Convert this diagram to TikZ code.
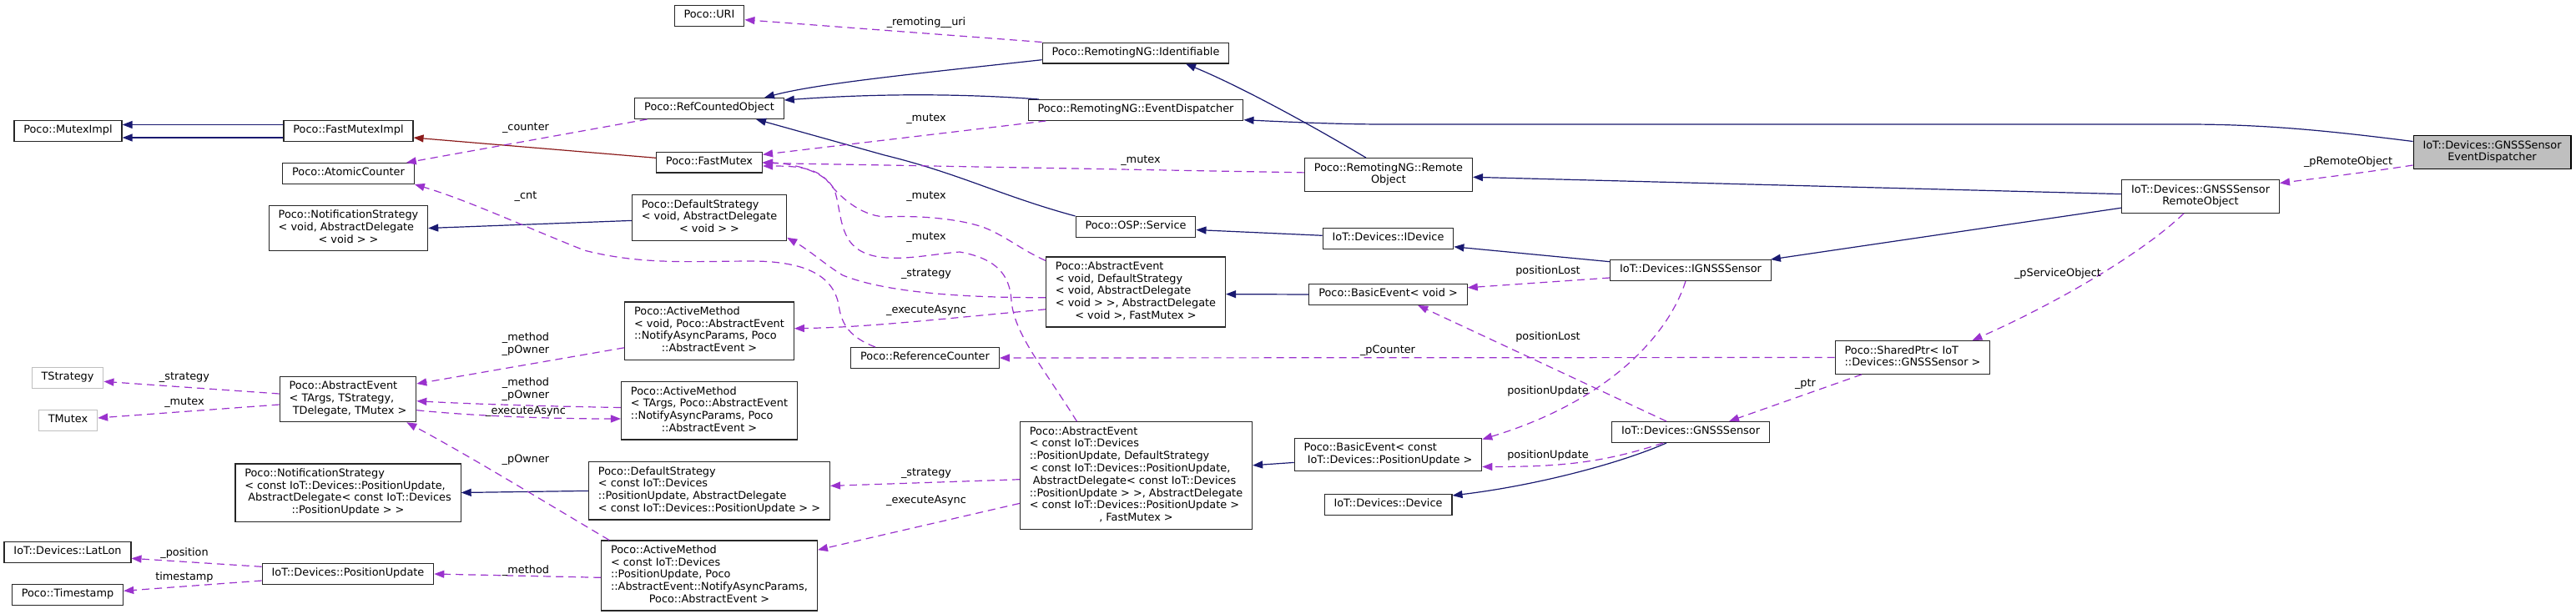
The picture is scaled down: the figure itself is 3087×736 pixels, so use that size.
\documentclass[tikz,border=0pt]{standalone}
\usepackage{fontspec}
\setmainfont{DejaVu Sans}
\usepackage{array}
\usetikzlibrary{arrows.meta}
\definecolor{navyc}{HTML}{191970}
\definecolor{orchidc}{HTML}{9A32CD}
\definecolor{brickc}{HTML}{8B1A1A}
\definecolor{nodeborder}{HTML}{262626}
\definecolor{lightborder}{HTML}{BFBFBF}
\definecolor{rootfill}{HTML}{BFBFBF}
\newcommand\dfont{\fontsize{12.85}{14.8}\selectfont}
\newcommand\ml[1]{\begin{tabular}{@{}l@{}}#1\end{tabular}}
\newcommand\lc[1]{\multicolumn{1}{@{}c@{}}{#1}}
\begin{document}
\begin{tikzpicture}[x=1pt,y=-1pt,
  cls/.style={draw=nodeborder, line width=1.2pt, fill=white, inner xsep=11.4pt, inner ysep=5pt, font=\dfont},
  clsg/.style={cls, draw=lightborder},
  rootbox/.style={cls, draw=black, fill=rootfill},
  lbl/.style={font=\dfont, inner sep=0pt, align=center},
  tip/.style={-{Triangle[length=12pt,width=9pt]}},
  inh/.style={draw=navyc, line width=1.2pt, tip},
  priv/.style={draw=brickc, line width=1.2pt, tip},
  use/.style={draw=orchidc, line width=1.2pt, dash pattern=on 9pt off 6pt, tip}]
\fill[white] (0,0) rectangle (3087,736);
\useasboundingbox (0,0) rectangle (3087,736);

% ---------- nodes ----------
\node[cls] (mutexImpl) at (81.5,157) {\ml{Poco::MutexImpl}};
\node[cls] (fastMutexImpl) at (417.5,157) {\ml{Poco::FastMutexImpl}};
\node[cls] (atomicCounter) at (417.5,208) {\ml{Poco::AtomicCounter}};
\node[cls] (notifVoid) at (417.5,273.5) {\ml{Poco::NotificationStrategy\\< void, AbstractDelegate\\\lc{< void > >}}};
\node[clsg] (tStrategy) at (81,453) {\ml{TStrategy}};
\node[clsg] (tMutex) at (81.5,504) {\ml{TMutex}};
\node[cls] (aeT) at (417,478.5) {\ml{Poco::AbstractEvent\\< TArgs, TStrategy,\\\lc{\ TDelegate, TMutex >}}};
\node[cls] (notifConst) at (417,590.5) {\ml{Poco::NotificationStrategy\\< const IoT::Devices::PositionUpdate,\\\ AbstractDelegate< const IoT::Devices\\\lc{::PositionUpdate > >}}};
\node[cls] (latLon) at (81,662) {\ml{IoT::Devices::LatLon}};
\node[cls] (timestamp) at (81,713) {\ml{Poco::Timestamp}};
\node[cls] (posUpdate) at (417,688) {\ml{IoT::Devices::PositionUpdate}};
\node[cls] (uri) at (850,19) {\ml{Poco::URI}};
\node[cls] (refCounted) at (850,130) {\ml{Poco::RefCountedObject}};
\node[cls] (fastMutex) at (850,194.5) {\ml{Poco::FastMutex}};
\node[cls] (dsVoid) at (850,261) {\ml{Poco::DefaultStrategy\\< void, AbstractDelegate\\\lc{< void > >}}};
\node[cls] (amVoid) at (850,396.5) {\ml{Poco::ActiveMethod\\< void, Poco::AbstractEvent\\::NotifyAsyncParams, Poco\\\lc{::AbstractEvent >}}};
\node[cls] (amT) at (850,492.4) {\ml{Poco::ActiveMethod\\< TArgs, Poco::AbstractEvent\\::NotifyAsyncParams, Poco\\\lc{::AbstractEvent >}}};
\node[cls] (dsConst) at (850,588.4) {\ml{Poco::DefaultStrategy\\< const IoT::Devices\\::PositionUpdate, AbstractDelegate\\\lc{< const IoT::Devices::PositionUpdate > >}}};
\node[cls] (amConst) at (850,690) {\ml{Poco::ActiveMethod\\< const IoT::Devices\\::PositionUpdate, Poco\\::AbstractEvent::NotifyAsyncParams,\\\lc{Poco::AbstractEvent >}}};
\node[cls] (identifiable) at (1361,63.5) {\ml{Poco::RemotingNG::Identifiable}};
\node[cls] (edRNG) at (1361,132) {\ml{Poco::RemotingNG::EventDispatcher}};
\node[cls] (service) at (1361,272) {\ml{Poco::OSP::Service}};
\node[cls] (aeVoid) at (1361,350) {\ml{Poco::AbstractEvent\\< void, DefaultStrategy\\< void, AbstractDelegate\\< void > >, AbstractDelegate\\\lc{< void >, FastMutex >}}};
\node[cls] (refCounter) at (1108.5,429) {\ml{Poco::ReferenceCounter}};
\node[cls] (aeConst) at (1361.5,570) {\ml{Poco::AbstractEvent\\< const IoT::Devices\\::PositionUpdate, DefaultStrategy\\< const IoT::Devices::PositionUpdate,\\\ AbstractDelegate< const IoT::Devices\\::PositionUpdate > >, AbstractDelegate\\< const IoT::Devices::PositionUpdate >\\\lc{, FastMutex >}}};
\node[cls] (roRNG) at (1664,209.5) {\ml{Poco::RemotingNG::Remote\\\lc{Object}}};
\node[cls] (iDevice) at (1663.5,286) {\ml{IoT::Devices::IDevice}};
\node[cls] (beVoid) at (1663.5,353) {\ml{Poco::BasicEvent< void >}};
\node[cls] (beConst) at (1663.5,545) {\ml{Poco::BasicEvent< const\\\lc{\ IoT::Devices::PositionUpdate >}}};
\node[cls] (device) at (1663.5,605) {\ml{IoT::Devices::Device}};
\node[cls] (igs) at (2026,324) {\ml{IoT::Devices::IGNSSSensor}};
\node[cls] (gs) at (2026,518) {\ml{IoT::Devices::GNSSSensor}};
\node[cls] (sharedPtr) at (2292,428.5) {\ml{Poco::SharedPtr< IoT\\\lc{::Devices::GNSSSensor >}}};
\node[cls] (roGNSS) at (2637,235.5) {\ml{IoT::Devices::GNSSSensor\\\lc{RemoteObject}}};
\node[rootbox] (dispatcher) at (2986.5,182.5) {\ml{IoT::Devices::GNSSSensor\\\lc{EventDispatcher}}};

% ---------- inheritance (navy) ----------
\draw[inh] ([yshift=7.5pt]fastMutexImpl.west) -- ([yshift=7.5pt]mutexImpl.east);
\draw[inh] ([yshift=-8pt]fastMutexImpl.west) -- ([yshift=-8pt]mutexImpl.east);
\draw[priv] ([yshift=5.2pt]fastMutex.west) -- ([yshift=-8pt]fastMutexImpl.east);
\draw[inh] ([yshift=-3.4pt]dsVoid.west) -- (notifVoid.east);
\draw[inh] (dsConst.west) -- (notifConst.east);
\draw[inh] ([yshift=-8.2pt]identifiable.west) .. controls (1100,88) and (980,100) .. ([xshift=66pt]refCounted.north);
\draw[inh] ([xshift=-116pt]edRNG.north) .. controls (1150,112) and (1050,112) .. ([yshift=-3pt]refCounted.north east);
\draw[inh] (service.north west) .. controls (1200,235) and (1150,208) .. (1060,186) -- ([xshift=56pt]refCounted.south);
\draw[inh] ([xshift=-27pt]roRNG.north) .. controls (1580,155) and (1490,105) .. ([xshift=60pt]identifiable.south);
\draw[inh] ([yshift=13pt]dispatcher.west) .. controls (2800,158) and (2720,149) .. (2620,149) -- (1660,149) .. controls (1600,149) and (1540,146) .. ([yshift=-11.7pt]edRNG.east);
\draw[inh] ([yshift=2.9pt]roGNSS.west) -- ([yshift=-2.8pt]roRNG.east);
\draw[inh] ([yshift=-13.7pt]roGNSS.west) -- ([xshift=-1pt]igs.north east);
\draw[inh] ([yshift=3.7pt]iDevice.west) -- ([yshift=-3.5pt]service.east);
\draw[inh] ([yshift=10.3pt]igs.west) -- ([yshift=-9.8pt]iDevice.east);
\draw[inh] (beVoid.west) -- ([yshift=-2.6pt]aeVoid.east);
\draw[inh] ([yshift=-9.4pt]beConst.west) -- ([yshift=12.2pt]aeConst.east);
\draw[inh] ([xshift=-29pt]gs.south) .. controls (1940,556) and (1840,582) .. ([yshift=11pt]device.east);

% ---------- usage (purple dashed) ----------
\draw[use] (identifiable.north west) -- ([yshift=-4.7pt]uri.east);
\draw[use] ([xshift=-74.5pt]refCounted.south) -- ([xshift=-10pt]atomicCounter.north east);
\draw[use] ([xshift=-59.6pt]refCounter.north) .. controls (1020,405) and (1008,390) .. (1005,365) .. controls (998,330) and (965,314) .. (905,313) .. controls (830,313) and (770,318) .. (700,300) .. controls (620,268) and (560,240) .. (atomicCounter.south east);
\draw[use] ([xshift=-107.6pt]edRNG.south) -- ([yshift=9.2pt]fastMutex.east);
\draw[use] ([yshift=2.6pt]roRNG.west) -- ([yshift=-0.9pt]fastMutex.east);
\draw[use] ([yshift=-5pt]aeVoid.north west) .. controls (1225,300) and (1205,283) .. (1180,273) .. controls (1150,262) and (1100,258) .. (1060,260) .. controls (1030,258) and (1005,235) .. (990,215) .. controls (975,200) and (950,199) .. ([yshift=-4.5pt]fastMutex.east);
\draw[use] ([xshift=-71pt]aeConst.north) .. controls (1250,440) and (1215,400) .. (1212,360) .. controls (1210,330) and (1195,310) .. (1150,302) .. controls (1110,305) and (1060,318) .. (1030,300) .. controls (1005,285) and (1008,250) .. (1000,228) .. controls (990,205) and (950,196) .. (fastMutex.east);
\draw[use] ([yshift=-6.7pt]aeVoid.west) .. controls (1150,357) and (1060,350) .. (1010,330) .. controls (990,318) and (970,300) .. ([yshift=4pt]dsVoid.south east);
\draw[use] ([yshift=-20.8pt]aeVoid.west) .. controls (1100,385) and (1040,392) .. ([yshift=2.7pt]amVoid.east);
\draw[use] ([yshift=-20.3pt]amVoid.west) -- ([yshift=18.5pt]aeT.east);
\draw[use] ([yshift=3.9pt]amT.west) .. controls (650,487) and (560,484) .. ([yshift=-2.2pt]aeT.east);
\draw[use] ([yshift=-13.2pt]aeT.east) .. controls (560,498) and (650,502) .. ([yshift=-9.6pt]amT.west);
\draw[use] ([xshift=10pt]amConst.north west) .. controls (650,600) and (560,545) .. ([xshift=-12pt]aeT.south east);
\draw[use] ([yshift=-2.3pt]amConst.west) -- (posUpdate.east);
\draw[use] ([yshift=8.7pt]posUpdate.west) -- ([yshift=-7.3pt]latLon.east);
\draw[use] ([yshift=-8pt]posUpdate.west) -- ([yshift=4.7pt]timestamp.east);
\draw[use] ([yshift=6.5pt]aeT.west) -- ([yshift=-4.3pt]tStrategy.east);
\draw[use] ([yshift=-6.5pt]aeT.west) -- ([yshift=3pt]tMutex.east);
\draw[use] ([yshift=-4.7pt]aeConst.west) -- ([yshift=6pt]dsConst.east);
\draw[use] ([yshift=-33.4pt]aeConst.west) -- ([yshift=30.8pt]amConst.east);
\draw[use] (sharedPtr.west) -- (refCounter.east);
\draw[use] ([xshift=-61pt]sharedPtr.south) -- ([xshift=46pt]gs.north);
\draw[use] ([xshift=-20pt]roGNSS.south) .. controls (2560,310) and (2450,370) .. ([xshift=-22pt]sharedPtr.north east);
\draw[use] ([yshift=-15.5pt]dispatcher.west) .. controls (2840,206) and (2790,212) .. ([yshift=16pt]roGNSS.east);
\draw[use] ([yshift=-9pt]igs.west) -- ([yshift=8.2pt]beVoid.east);
\draw[use] ([xshift=-29pt]gs.north) -- ([xshift=35.7pt]beVoid.south);
\draw[use] ([xshift=-6pt]igs.south) .. controls (2000,400) and (1930,480) .. ([yshift=-2pt]beConst.north east);
\draw[use] ([xshift=-33pt]gs.south) .. controls (1920,555) and (1870,559.5) .. ([yshift=-14.5pt]beConst.east);

% ---------- edge labels ----------
\node[lbl] (lUri) at (1110,27) {\_remoting\_\_uri};
\node[lbl] (lCounter) at (630,154) {\_counter};
\node[lbl] (lCnt) at (630,236) {\_cnt};
\node[lbl] (lMutexEd) at (1110,143) {\_mutex};
\node[lbl] (lMutexRo) at (1367,193) {\_mutex};
\node[lbl] (lMutexAv) at (1110,236) {\_mutex};
\node[lbl] (lMutexAc) at (1110,285) {\_mutex};
\node[lbl] (lStratAv) at (1110,328) {\_strategy};
\node[lbl] (lExecAv) at (1110,372) {\_executeAsync};
\node[lbl] (lMethV) at (630,413) {\_method\\\_pOwner};
\node[lbl] (lMethT) at (630,467) {\_method\\\_pOwner};
\node[lbl] (lExecT) at (630,493.5) {\_executeAsync};
\node[lbl] (lOwner) at (630,551.7) {\_pOwner};
\node[lbl] (lMethC) at (630,684) {\_method};
\node[lbl] (lPos) at (221,662.7) {\_position};
\node[lbl] (lTime) at (221,691.7) {timestamp};
\node[lbl] (lStratT) at (221,452.7) {\_strategy};
\node[lbl] (lMutexT) at (221,482.7) {\_mutex};
\node[lbl] (lStratC) at (1110,567) {\_strategy};
\node[lbl] (lExecC) at (1110,600) {\_executeAsync};
\node[lbl] (lPCounter) at (1663,420) {\_pCounter};
\node[lbl] (lPtr) at (2163.5,460.4) {\_ptr};
\node[lbl] (lPSO) at (2466,328) {\_pServiceObject};
\node[lbl] (lPRO) at (2814,194) {\_pRemoteObject};
\node[lbl] (lLost1) at (1855,325) {positionLost};
\node[lbl] (lLost2) at (1855,404) {positionLost};
\node[lbl] (lUpd1) at (1855,469) {positionUpdate};
\node[lbl] (lUpd2) at (1855,546) {positionUpdate};
\end{tikzpicture}
\end{document}
